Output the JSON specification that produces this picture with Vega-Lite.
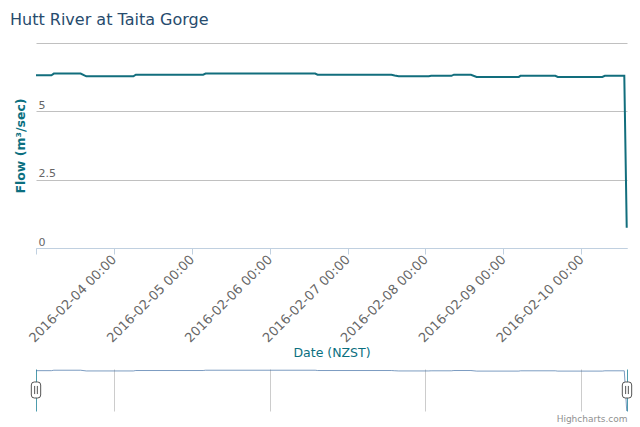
{
  "$schema": "https://vega.github.io/schema/vega-lite/v6.json",
  "padding": {"left": 10, "top": 12, "right": 5, "bottom": 5},
  "title": {
    "text": "Hutt River at Taita Gorge",
    "anchor": "start",
    "frame": "bounds",
    "fontSize": 16,
    "fontWeight": "normal",
    "color": "#274b6d",
    "offset": 15,
    "dx": -4
  },
  "datasets": {
    "flow": [
      {"t": "2016-02-03T00:00:00", "flow": 6.32},
      {"t": "2016-02-03T04:45:00", "flow": 6.32},
      {"t": "2016-02-03T05:30:00", "flow": 6.38},
      {"t": "2016-02-03T13:45:00", "flow": 6.38},
      {"t": "2016-02-03T15:30:00", "flow": 6.28},
      {"t": "2016-02-04T06:00:00", "flow": 6.28},
      {"t": "2016-02-04T06:45:00", "flow": 6.34},
      {"t": "2016-02-05T03:30:00", "flow": 6.34},
      {"t": "2016-02-05T04:15:00", "flow": 6.38},
      {"t": "2016-02-06T14:00:00", "flow": 6.38},
      {"t": "2016-02-06T14:45:00", "flow": 6.34},
      {"t": "2016-02-07T13:30:00", "flow": 6.34},
      {"t": "2016-02-07T14:30:00", "flow": 6.31},
      {"t": "2016-02-07T15:45:00", "flow": 6.28},
      {"t": "2016-02-08T01:00:00", "flow": 6.28},
      {"t": "2016-02-08T01:45:00", "flow": 6.3},
      {"t": "2016-02-08T08:00:00", "flow": 6.3},
      {"t": "2016-02-08T08:45:00", "flow": 6.34},
      {"t": "2016-02-08T14:00:00", "flow": 6.34},
      {"t": "2016-02-08T15:45:00", "flow": 6.26},
      {"t": "2016-02-09T04:45:00", "flow": 6.26},
      {"t": "2016-02-09T05:15:00", "flow": 6.3},
      {"t": "2016-02-09T16:00:00", "flow": 6.3},
      {"t": "2016-02-09T16:45:00", "flow": 6.26},
      {"t": "2016-02-10T06:30:00", "flow": 6.26},
      {"t": "2016-02-10T07:15:00", "flow": 6.3},
      {"t": "2016-02-10T13:15:00", "flow": 6.3},
      {"t": "2016-02-10T14:00:00", "flow": 0.74}
    ],
    "handles": [
      {"t": "2016-02-03T00:00:00", "flow": 3.645},
      {"t": "2016-02-10T14:05:00", "flow": 3.645}
    ]
  },
  "spacing": 8,
  "vconcat": [
    {
      "width": 591,
      "height": 205,
      "data": {"name": "flow"},
      "mark": {"type": "line", "color": "#126e7d", "strokeWidth": 2},
      "encoding": {
        "x": {
          "field": "t",
          "type": "temporal",
          "scale": {"domain": [
            {"year": 2016, "month": 2, "date": 3},
            {"year": 2016, "month": 2, "date": 10, "hours": 14, "minutes": 5}
          ]},
          "axis": {
            "values": [
              {"year": 2016, "month": 2, "date": 3},
              {"year": 2016, "month": 2, "date": 4},
              {"year": 2016, "month": 2, "date": 5},
              {"year": 2016, "month": 2, "date": 6},
              {"year": 2016, "month": 2, "date": 7},
              {"year": 2016, "month": 2, "date": 8},
              {"year": 2016, "month": 2, "date": 9},
              {"year": 2016, "month": 2, "date": 10}
            ],
            "format": "%Y-%m-%d %H:%M",
            "labelExpr": "datum.value < datetime(2016, 1, 3, 12) ? '' : datum.label",
            "labelAngle": -45,
            "labelAlign": "right",
            "labelBaseline": "middle",
            "labelPadding": 3,
            "labelOverlap": false,
            "labelFlush": false,
            "labelColor": "#666666",
            "labelFontSize": 13,
            "tickSize": 6,
            "tickColor": "#C0D0E0",
            "domainColor": "#C0D0E0",
            "grid": false,
            "title": "Date (NZST)",
            "titleColor": "#0b6f7f",
            "titleFontSize": 12.5,
            "titleFontWeight": "normal",
            "titlePadding": 2
          }
        },
        "y": {
          "field": "flow",
          "type": "quantitative",
          "scale": {"domain": [0, 7.5], "nice": false},
          "axis": {
            "values": [0, 2.5, 5, 7.5],
            "labelExpr": "datum.value == 7.5 ? '' : '' + datum.value",
            "grid": true,
            "gridColor": {"condition": {"test": "datum.value === 0", "value": "#C0D0E0"}, "value": "#C0C0C0"},
            "domain": false,
            "ticks": false,
            "tickSize": 0,
            "labelAlign": "left",
            "labelBaseline": "alphabetic",
            "labelPadding": -2,
            "labelOffset": -3,
            "labelColor": "#666666",
            "labelFontSize": 11,
            "title": "Flow (m³/sec)",
            "titleColor": "#0b6f7f",
            "titleFontSize": 12.5,
            "titleFontWeight": "bold",
            "titlePadding": 9
          }
        }
      }
    },
    {
      "width": 591,
      "height": 42,
      "layer": [
        {
          "data": {"name": "flow"},
          "mark": {"type": "line", "color": "#4572A7", "strokeWidth": 1, "opacity": 0.7},
          "encoding": {
            "x": {
              "field": "t",
              "type": "temporal",
              "scale": {"domain": [
                {"year": 2016, "month": 2, "date": 3},
                {"year": 2016, "month": 2, "date": 10, "hours": 14, "minutes": 5}
              ]},
              "axis": {
                "values": [
                  {"year": 2016, "month": 2, "date": 4},
                  {"year": 2016, "month": 2, "date": 6},
                  {"year": 2016, "month": 2, "date": 8},
                  {"year": 2016, "month": 2, "date": 10}
                ],
                "grid": true,
                "gridColor": "#cccccc",
                "labels": false,
                "ticks": false,
                "domain": false,
                "title": "Highcharts.com",
                "titleAnchor": "end",
                "titleFontSize": 9,
                "titleFontWeight": "normal",
                "titleColor": "#909090",
                "titlePadding": 3
              }
            },
            "y": {
              "field": "flow",
              "type": "quantitative",
              "scale": {"domain": [0.74, 6.55], "nice": false, "zero": false},
              "axis": {
                "orient": "left",
                "domain": true,
                "domainColor": "#4d9cad",
                "labels": false,
                "ticks": false,
                "grid": false,
                "title": null
              }
            }
          }
        },
        {
          "data": {"name": "handles"},
          "mark": {
            "type": "point",
            "shape": "M-0.52,-0.56Q-0.52,-0.89,-0.19,-0.89L0.19,-0.89Q0.52,-0.89,0.52,-0.56L0.52,0.56Q0.52,0.89,0.19,0.89L-0.19,0.89Q-0.52,0.89,-0.52,0.56ZM-0.15,-0.45L-0.15,0.45M0.15,-0.45L0.15,0.45",
            "size": 324,
            "filled": true,
            "fill": "#ffffff",
            "fillOpacity": 1,
            "stroke": "#555555",
            "strokeWidth": 1,
            "opacity": 1
          },
          "encoding": {
            "x": {"field": "t", "type": "temporal"},
            "y": {
              "field": "flow",
              "type": "quantitative",
              "axis": {
                "orient": "right",
                "domain": true,
                "domainColor": "#4d9cad",
                "labels": false,
                "ticks": false,
                "grid": false,
                "title": null
              }
            }
          }
        }
      ],
      "resolve": {"axis": {"y": "independent"}}
    }
  ],
  "config": {
    "font": "DejaVu Sans",
    "view": {"stroke": null}
  }
}
